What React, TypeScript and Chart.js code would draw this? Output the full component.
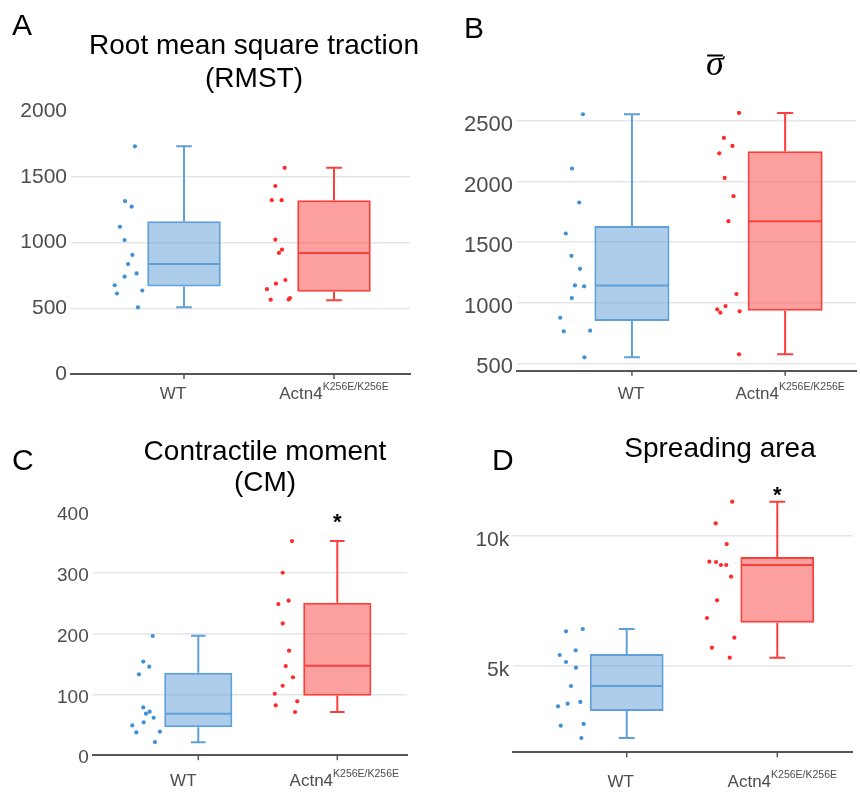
import React, { useEffect, useRef } from "react";
import { Chart, registerables } from "chart.js";
Chart.register(...registerables);

// ---------- shared categories ----------
const categories = ["WT", "Actn4"];
const categorySuperscripts = ["", "K256E/K256E"];
const categoryPositions = [1, 2];

// ---------- Panel A: RMST ----------
const rmstTicks = [0, 500, 1000, 1500, 2000];
const rmstTickLabels = ["0", "500", "1000", "1500", "2000"];
const rmstWT = [1734, 1317, 1274, 1121, 1020, 907, 837, 766, 741, 676, 636, 613, 508];
const rmstWTJitter = [-0.327, -0.393, -0.349, -0.427, -0.396, -0.344, -0.373, -0.316, -0.396, -0.462, -0.278, -0.447, -0.307];
const rmstMut = [1570, 1432, 1324, 1324, 1023, 947, 922, 716, 688, 646, 566, 578, 568];
const rmstMutJitter = [-0.329, -0.391, -0.415, -0.349, -0.391, -0.347, -0.367, -0.324, -0.387, -0.447, -0.422, -0.293, -0.302];
const rmstWTBox = [508, 666, 837, 1163, 1734]; // min, q1, median, q3, max
const rmstMutBox = [562, 626, 922, 1324, 1570];

// ---------- Panel B: sigma bar ----------
const sigmaTicks = [500, 1000, 1500, 2000, 2500];
const sigmaTickLabels = ["500", "1000", "1500", "2000", "2500"];
const sigmaWT = [2555, 2107, 1827, 1571, 1387, 1280, 1143, 1135, 1038, 876, 764, 769, 549];
const sigmaWTJitter = [-0.32, -0.391, -0.344, -0.432, -0.395, -0.339, -0.372, -0.312, -0.393, -0.468, -0.445, -0.273, -0.31];
const sigmaMut = [2566, 2360, 2294, 2233, 2030, 1879, 1673, 1071, 972, 945, 918, 929, 574];
const sigmaMutJitter = [-0.301, -0.4, -0.344, -0.43, -0.395, -0.337, -0.37, -0.318, -0.389, -0.443, -0.423, -0.297, -0.301];
const sigmaWTBox = [549, 849, 1143, 1634, 2555];
const sigmaMutBox = [574, 934, 1673, 2250, 2566];

// ---------- Panel C: contractile moment ----------
const cmTicks = [0, 100, 200, 300, 400];
const cmTickLabels = ["0", "100", "200", "300", "400"];
const cmWT = [196, 154, 145.5, 133, 78.6, 71.5, 68.2, 61.6, 54, 49, 37.5, 38.6, 21.6];
const cmWTJitter = [-0.328, -0.396, -0.353, -0.427, -0.396, -0.35, -0.376, -0.321, -0.393, -0.475, -0.446, -0.276, -0.312];
const cmMut = [352, 300, 248.5, 254, 216.7, 171.8, 146.6, 128, 114.2, 101, 88.5, 82, 71];
const cmMutJitter = [-0.326, -0.393, -0.424, -0.35, -0.393, -0.347, -0.371, -0.319, -0.393, -0.45, -0.288, -0.443, -0.304];
const cmWTBox = [21.1, 45.8, 68.2, 135.6, 196.4];
const cmMutBox = [71, 97.8, 147.1, 250.7, 352];
const cmSignificance = 392;

// ---------- Panel D: spreading area ----------
const areaTicks = [5000, 10000];
const areaTickLabels = ["5k", "10k"];
const areaWT = [6320, 6410, 5590, 5410, 5141, 4923, 4218, 3436, 3538, 3603, 2692, 2757, 2218];
const areaWTJitter = [-0.403, -0.292, -0.339, -0.445, -0.403, -0.337, -0.37, -0.456, -0.392, -0.308, -0.438, -0.286, -0.301];
const areaMut = [11307, 10474, 9679, 9000, 8987, 8872, 8872, 8423, 7513, 6833, 6077, 5692, 5308];
const areaMutJitter = [-0.299, -0.409, -0.336, -0.451, -0.407, -0.374, -0.339, -0.307, -0.4, -0.467, -0.285, -0.434, -0.316];
const areaWTBox = [2218, 3256, 4218, 5449, 6410];
const areaMutBox = [5308, 6654, 8872, 9179, 11307];
const areaSignificance = 11785;

// ---------- styles ----------
const SANS = '"Liberation Sans", Arial, Helvetica, sans-serif';
const boxFill = ["rgba(91,155,213,0.5)", "rgba(247,66,63,0.5)"];
const boxLine = ["#5fa0da", "#f9403d"];
const pointColor = ["#3f90d6", "#ff2a2a"];

type Panel = {
  key: string;
  letter: string; letterX: number; letterY: number;
  title: string[]; titleX: number; titleYs: number[]; sigmaTitle?: boolean;
  cl: number; ct: number; cw: number; ch: number;
  aL: number; aR: number; aT: number; aB: number;
  xMin: number; xMax: number; yMin: number; yMax: number;
  yTicks: number[]; yTickLabels: string[]; hiddenGrid: number[];
  tickFont: number; tickOffset: number;
  wt: number[]; wtJ: number[]; mut: number[]; mutJ: number[];
  wtBox: number[]; mutBox: number[];
  sig: number | null;
  xLabelY: number; xLabelShift: number[];
};

const panels: Panel[] = [
  {
    key: "A", letter: "A", letterX: 12, letterY: 35,
    title: ["Root mean square traction", "(RMST)"], titleX: 254, titleYs: [53.5, 86.5],
    cl: 0, ct: 0, cw: 430, ch: 400,
    aL: 71, aR: 410, aT: 111.4, aB: 374,
    xMin: 0.2467, xMax: 2.5067, yMin: 0, yMax: 2000,
    yTicks: rmstTicks, yTickLabels: rmstTickLabels, hiddenGrid: [0, 2000],
    tickFont: 21, tickOffset: 0,
    wt: rmstWT, wtJ: rmstWTJitter, mut: rmstMut, mutJ: rmstMutJitter,
    wtBox: rmstWTBox, mutBox: rmstMutBox, sig: null,
    xLabelY: 399, xLabelShift: [-11, 0],
  },
  {
    key: "B", letter: "B", letterX: 34, letterY: 38.3,
    title: ["σ"], titleX: 285, titleYs: [75], sigmaTitle: true,
    cl: 430, ct: 0, cw: 430, ch: 400,
    aL: 87, aR: 430, aT: 96.7, aB: 370.7,
    xMin: 0.2497, xMax: 2.4626, yMin: 439, yMax: 2700,
    yTicks: sigmaTicks, yTickLabels: sigmaTickLabels, hiddenGrid: [],
    tickFont: 22, tickOffset: 4,
    wt: sigmaWT, wtJ: sigmaWTJitter, mut: sigmaMut, mutJ: sigmaMutJitter,
    wtBox: sigmaWTBox, mutBox: sigmaMutBox, sig: null,
    xLabelY: 399, xLabelShift: [-1, 5],
  },
  {
    key: "C", letter: "C", letterX: 12, letterY: 70,
    title: ["Contractile moment", "(CM)"], titleX: 265, titleYs: [59.5, 90.7],
    cl: 0, ct: 400, cw: 430, ch: 392,
    aL: 92.7, aR: 407, aT: 111.9, aB: 355.2,
    xMin: 0.2403, xMax: 2.5014, yMin: 0, yMax: 400,
    yTicks: cmTicks, yTickLabels: cmTickLabels, hiddenGrid: [0, 400],
    tickFont: 19, tickOffset: 3,
    wt: cmWT, wtJ: cmWTJitter, mut: cmMut, mutJ: cmMutJitter,
    wtBox: cmWTBox, mutBox: cmMutBox, sig: cmSignificance,
    xLabelY: 386, xLabelShift: [-15, 7],
  },
  {
    key: "D", letter: "D", letterX: 62, letterY: 70,
    title: ["Spreading area"], titleX: 290, titleYs: [56.7],
    cl: 430, ct: 400, cw: 430, ch: 392,
    aL: 83.3, aR: 422.7, aT: 78.5, aB: 352.3,
    xMin: 0.247, xMax: 2.5007, yMin: 1667, yMax: 12200,
    yTicks: areaTicks, yTickLabels: areaTickLabels, hiddenGrid: [],
    tickFont: 21, tickOffset: 4.5,
    wt: areaWT, wtJ: areaWTJitter, mut: areaMut, mutJ: areaMutJitter,
    wtBox: areaWTBox, mutBox: areaMutBox, sig: areaSignificance,
    xLabelY: 386.7, xLabelShift: [-6, 5],
  },
];

function PanelChart({ p }: { p: Panel }) {
  const ref = useRef<HTMLCanvasElement | null>(null);
  useEffect(() => {
    if (!ref.current) return;
    const boxes = [p.wtBox, p.mutBox];
    const extras = {
      id: "boxExtras" + p.key,
      afterDatasetsDraw(chart: any) {
        const ctx = chart.ctx;
        const ys = chart.scales.y;
        const meta = chart.getDatasetMeta(0);
        boxes.forEach((b, i) => {
          const el = meta.data[i];
          if (!el) return;
          const cx = el.x;
          const w = el.width;
          const py = (v: number) => ys.getPixelForValue(v);
          const cap = w * 0.107;
          ctx.save();
          ctx.strokeStyle = boxLine[i];
          ctx.lineWidth = 2;
          ctx.beginPath();
          ctx.moveTo(cx, py(b[3]));
          ctx.lineTo(cx, py(b[4]));
          ctx.moveTo(cx, py(b[1]));
          ctx.lineTo(cx, py(b[0]));
          ctx.moveTo(cx - cap, py(b[4]));
          ctx.lineTo(cx + cap, py(b[4]));
          ctx.moveTo(cx - cap, py(b[0]));
          ctx.lineTo(cx + cap, py(b[0]));
          ctx.moveTo(cx - w / 2 + 1, py(b[2]));
          ctx.lineTo(cx + w / 2 - 1, py(b[2]));
          ctx.stroke();
          ctx.restore();
        });
      },
      afterDraw(chart: any) {
        const ctx = chart.ctx;
        const xs = chart.scales.x;
        const ys = chart.scales.y;
        const area = chart.chartArea;
        ctx.save();
        // panel letter
        ctx.fillStyle = "#000";
        ctx.textAlign = "left";
        ctx.textBaseline = "alphabetic";
        ctx.font = `30px ${SANS}`;
        ctx.fillText(p.letter, p.letterX, p.letterY);
        // title
        ctx.textAlign = "center";
        if (p.sigmaTitle) {
          ctx.font = `italic 36px "Liberation Serif", "DejaVu Serif", serif`;
          ctx.fillText(p.title[0], p.titleX, p.titleYs[0]);
          const w = ctx.measureText(p.title[0]).width;
          ctx.strokeStyle = "#000";
          ctx.lineWidth = 2;
          ctx.beginPath();
          ctx.moveTo(p.titleX - w / 2 + 1, 55.5);
          ctx.lineTo(p.titleX + w / 2 - 1, 55.5);
          ctx.stroke();
        } else {
          ctx.font = `28px ${SANS}`;
          p.title.forEach((t, i) => ctx.fillText(t, p.titleX, p.titleYs[i]));
        }
        // x tick marks and labels
        categories.forEach((c, i) => {
          const px = xs.getPixelForValue(categoryPositions[i]);
          ctx.strokeStyle = "#555";
          ctx.lineWidth = 1.5;
          ctx.beginPath();
          ctx.moveTo(px, area.bottom);
          ctx.lineTo(px, area.bottom + 5);
          ctx.stroke();
          const mainFont = `17px ${SANS}`;
          const supFont = `10.5px ${SANS}`;
          ctx.font = mainFont;
          const w1 = ctx.measureText(c).width;
          ctx.font = supFont;
          const sup = categorySuperscripts[i];
          const w2 = sup ? ctx.measureText(sup).width : 0;
          const start = px + p.xLabelShift[i] - (w1 + w2) / 2;
          ctx.fillStyle = "#4d4d4d";
          ctx.textAlign = "left";
          ctx.font = mainFont;
          ctx.fillText(c, start, p.xLabelY);
          if (sup) {
            ctx.font = supFont;
            ctx.fillText(sup, start + w1, p.xLabelY - 9);
          }
        });
        // significance marker
        if (p.sig !== null) {
          const px = xs.getPixelForValue(categoryPositions[1]);
          const py = ys.getPixelForValue(p.sig);
          ctx.fillStyle = "#000";
          ctx.textAlign = "center";
          ctx.font = `bold 22px ${SANS}`;
          ctx.fillText("*", px, py + 0.57 * 22);
        }
        ctx.restore();
      },
    };

    const chart = new Chart(ref.current, {
      type: "bar",
      data: {
        datasets: [
          {
            type: "bar",
            data: [
              { x: categoryPositions[0], y: [p.wtBox[1], p.wtBox[3]] },
              { x: categoryPositions[1], y: [p.mutBox[1], p.mutBox[3]] },
            ] as any,
            backgroundColor: boxFill,
            borderColor: boxLine,
            borderWidth: 2,
            borderSkipped: false,
            categoryPercentage: 1,
            barPercentage: 0.49,
          } as any,
          {
            type: "scatter",
            data: p.wt.map((v, i) => ({ x: categoryPositions[0] + p.wtJ[i], y: v })),
            backgroundColor: pointColor[0],
            borderWidth: 0,
            pointRadius: 2.1,
          } as any,
          {
            type: "scatter",
            data: p.mut.map((v, i) => ({ x: categoryPositions[1] + p.mutJ[i], y: v })),
            backgroundColor: pointColor[1],
            borderWidth: 0,
            pointRadius: 2.1,
          } as any,
        ],
      },
      options: {
        animation: false,
        responsive: false,
        events: [],
        layout: {
          padding: { left: 0, top: p.aT, right: p.cw - p.aR, bottom: 0 },
        },
        plugins: { legend: { display: false }, tooltip: { enabled: false }, title: { display: false } },
        scales: {
          x: {
            type: "linear",
            offset: false,
            min: p.xMin,
            max: p.xMax,
            grid: { display: false, offset: false },
            border: { display: true, color: "#555", width: 2 },
            ticks: { display: false },
            afterBuildTicks: (s: any) => {
              s.ticks = categoryPositions.map((v) => ({ value: v }));
            },
            afterFit: (s: any) => {
              s.height = p.ch - p.aB;
            },
          },
          y: {
            type: "linear",
            min: p.yMin,
            max: p.yMax,
            grid: {
              drawTicks: false,
              lineWidth: 1.5,
              color: (ctx: any) =>
                ctx.tick && p.hiddenGrid.includes(ctx.tick.value) ? "rgba(0,0,0,0)" : "#e6e6e6",
            },
            border: { display: false },
            ticks: {
              padding: 4,
              color: "#4d4d4d",
              font: { family: SANS, size: p.tickFont },
              labelOffset: p.tickOffset,
              callback: (_v: any, i: number) => p.yTickLabels[i],
            },
            afterBuildTicks: (s: any) => {
              s.ticks = p.yTicks.map((v) => ({ value: v }));
            },
            afterFit: (s: any) => {
              s.width = p.aL;
            },
          },
        },
      } as any,
      plugins: [extras],
    });
    return () => chart.destroy();
  }, [p]);

  return (
    <canvas
      ref={ref}
      width={p.cw}
      height={p.ch}
      style={{ position: "absolute", left: p.cl, top: p.ct, width: p.cw, height: p.ch, display: "block" }}
    />
  );
}

export default function App() {
  return (
    <div style={{ position: "absolute", left: 0, top: 0, width: 860, height: 792, background: "#fff", overflow: "hidden" }}>
      {panels.map((p) => (
        <PanelChart key={p.key} p={p} />
      ))}
    </div>
  );
}
